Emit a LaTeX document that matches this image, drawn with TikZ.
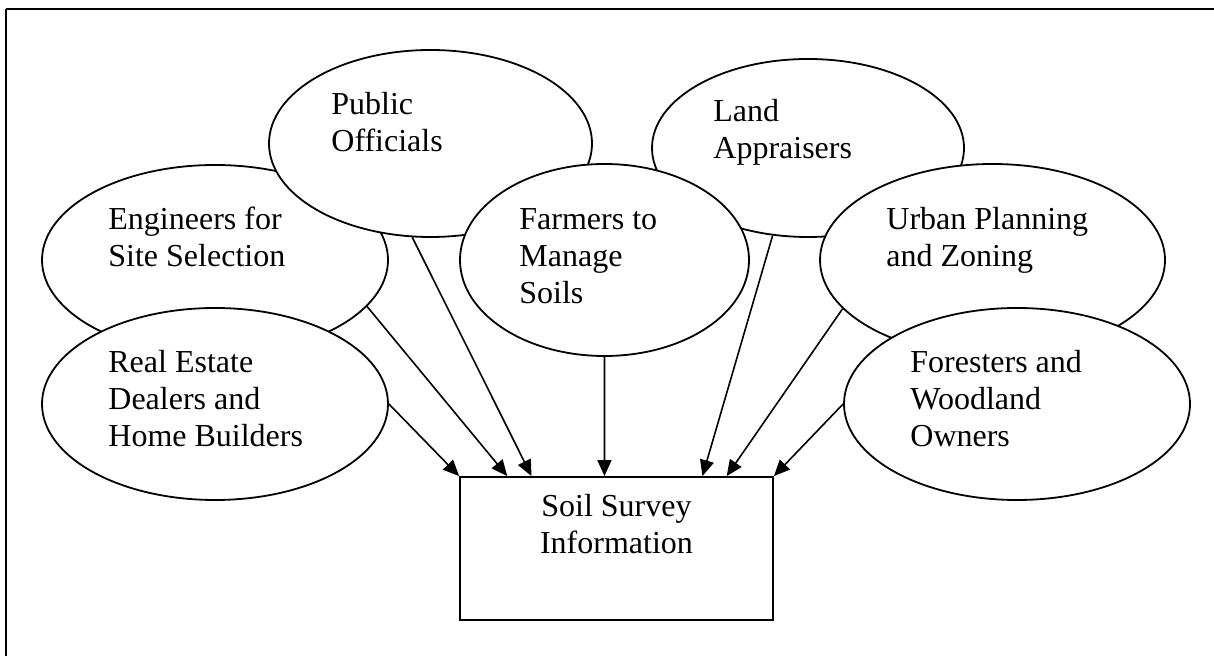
\documentclass[tikz,border=0pt]{standalone}
\usepackage{fontspec}
\setmainfont{Liberation Serif}
\usetikzlibrary{shapes.geometric,arrows.meta,calc}

\begin{document}
\begin{tikzpicture}[x=0.5pt,y=-0.5pt,
    bubble/.style={ellipse,draw,fill=white,line width=0.9pt,inner sep=0pt},
    label text/.style={anchor=base west,align=left,inner sep=0pt,
      font=\fontsize{16}{18.5}\selectfont},
    infobox/.style={rectangle,draw,fill=white,line width=0.9pt,inner sep=0pt,
      minimum width=156.5pt,minimum height=71.5pt},
    feed/.style={line width=0.8pt,-{Triangle[length=8pt,width=7pt]}}]
  \useasboundingbox (0,0) rectangle (1214,656);

  % frame edges
  \draw[line width=1.4pt] (6,9) -- (1214,9);
  \draw[line width=1.1pt] (6,9) -- (6,656);

  % user groups, back to front (text anchored at the last line's baseline)
  \node[bubble,minimum width=173pt,minimum height=95pt] (eng) at (215,260) {};
  \node[label text] (engT) at (108,267) {Engineers for\\Site Selection};

  \node[bubble,minimum width=156pt,minimum height=89pt] (land) at (808,148) {};
  \node[label text] (landT) at (713,159) {Land\\Appraisers};

  \node[bubble,minimum width=161.5pt,minimum height=93.5pt] (pub) at (430.5,143.5) {};
  \node[label text] (pubT) at (331,152) {Public\\Officials};

  \node[bubble,minimum width=172.5pt,minimum height=96pt] (urb) at (992.5,260) {};
  \node[label text] (urbT) at (886,267) {Urban Planning\\and Zoning};

  \node[bubble,minimum width=144.5pt,minimum height=96pt] (farm) at (604.5,260) {};
  \node[label text] (farmT) at (519,304) {Farmers to\\Manage\\Soils};

  \node[bubble,minimum width=173pt,minimum height=96pt] (real) at (215,404) {};
  \node[label text] (realT) at (108,447) {Real Estate\\Dealers and\\Home Builders};

  \node[bubble,minimum width=173pt,minimum height=96pt] (fore) at (1017,404) {};
  \node[label text] (foreT) at (910,447) {Foresters and\\Woodland\\Owners};

  % central box
  \node[infobox] (box) at (616.5,548.5) {};
  \node[anchor=base,align=center,inner sep=0pt,font=\fontsize{16}{18.5}\selectfont]
    (boxT) at (616.5,554) {Soil Survey\\Information};

  % connectors into the box
  \draw[feed] (real.east) -- (box.north west);
  \draw[feed] (eng.-17.7) -- ($(box.north west)!0.153!(box.north east)$);
  \draw[feed] (pub.259.4) -- ($(box.north west)!0.230!(box.north east)$);
  \draw[feed] (farm.south) -- ($(box.north west)!0.4617!(box.north east)$);
  \draw[feed] (land.248.5) -- ($(box.north west)!0.773!(box.north east)$);
  \draw[feed] (urb.198.5) -- ($(box.north west)!0.850!(box.north east)$);
  \draw[feed] (fore.west) -- (box.north east);
\end{tikzpicture}
\end{document}
